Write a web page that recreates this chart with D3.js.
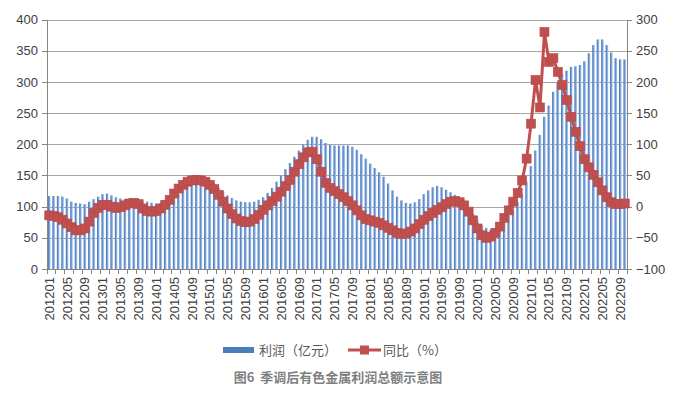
<!DOCTYPE html>
<html>

<head>
  <meta charset="utf-8">
  <title>季调后有色金属利润总额示意图</title>
  <script src="https://cdn.jsdelivr.net/npm/d3@7/dist/d3.min.js"></script>
  <style type="text/css">
    html,
    body {
      margin: 0;
      padding: 0;
      background: #fff;
    }

    svg {
      display: block;
      font-family: "Noto Sans CJK SC", "Noto Sans", sans-serif;
    }

    .axis path,
    .axis line {
      stroke: #868686;
      stroke-width: 1px;
      shape-rendering: crispEdges;
    }

    .axis text {
      font-size: 13px;
      fill: #404040;
    }

    .grid line {
      stroke: #a6a6a6;
      stroke-width: 1px;
      shape-rendering: crispEdges;
    }

    .grid path {
      display: none;
    }
  </style>
</head>

<body>
  <svg class="svg" width="673" height="398"></svg>
  <script type="text/javascript">
    // months 201201 .. 202210
    var months = [];
    for (var yr = 2012; yr <= 2022; yr++) {
      for (var mo = 1; mo <= 12; mo++) {
        if (yr === 2022 && mo > 10) break;
        months.push(yr + (mo < 10 ? '0' : '') + mo);
      }
    }

    // 利润（亿元）
    var profit = [
      117, 117, 117, 116, 113, 108, 106, 105, 104, 108, 112, 116,
      120, 121, 118, 115, 113, 112, 113, 112, 111, 110, 108, 106,
      105, 106, 107, 110, 115, 120, 126, 133, 140, 146, 149, 148,
      143, 137, 130, 124, 118, 114, 110, 108, 107, 107, 108, 111,
      115, 122, 130, 140, 150, 160, 170, 180, 190, 200, 207, 212,
      212, 208, 202, 199, 198, 198, 198, 198, 196, 191, 184, 177,
      169, 162, 155, 148, 137, 126, 116, 110, 106, 105, 107, 112,
      120, 126, 131, 133, 131, 127, 123, 119, 113, 106, 98, 88,
      78, 70, 66, 63, 64, 70, 77, 86, 95, 107, 120, 140,
      165, 190, 215, 244, 262, 284, 300, 312, 318, 324, 325, 327,
      333, 346, 359, 368, 368, 359, 347, 338, 336, 336
    ];

    // 同比（%）
    var yoy = [
      -14, -15, -17, -21, -27, -33, -38, -38, -35, -24, -10, -2,
      3, 3, 0, -2, -1, 2, 5, 6, 4, -3, -7, -8,
      -7, -3, 3, 11, 21, 29, 35, 40, 42, 43, 42, 40,
      35, 28, 19, 8, -3, -12, -19, -23, -25, -24, -20, -13,
      -5, 2, 9, 16, 24, 33, 43, 56, 68, 79, 87, 88,
      76, 56, 38, 30, 25, 20, 15, 9, 2, -6, -14, -20,
      -22, -24, -26, -30, -34, -38, -42, -44, -43, -40, -35, -28,
      -21, -15, -10, -5, -1, 4, 8, 9, 7, 2, -8, -22,
      -35, -46, -50, -48, -42, -32, -18, -6, 8, 22, 42, 77,
      133, 203, 159, 280, 232, 238, 216, 195, 171, 144, 120, 97,
      76, 63, 51, 39, 26, 15, 7, 4, 4, 5
    ];

    var profitTicks = [0, 50, 100, 150, 200, 250, 300, 350, 400];
    var yoyTicks = [-100, -50, 0, 50, 100, 150, 200, 250, 300];

    var data = months.map((d, i) => ({ month: d, profit: profit[i], yoy: yoy[i] }));

    var svg = d3.select('.svg');
    var x0 = 47, x1 = 627, yTop = 19.5, yBottom = 269;

    var xScale = d3.scaleBand()
      .domain(months)
      .range([x0, x1])
      .paddingInner(0.42)
      .paddingOuter(0.21);

    var yLeft = d3.scaleLinear().domain([0, 400]).range([yBottom, yTop]);
    var yRight = d3.scaleLinear().domain([-100, 300]).range([yBottom, yTop]);

    // 漸層
    var grad = svg.append('defs').append('linearGradient')
      .attr('id', 'barGrad')
      .attr('x1', '0%').attr('x2', '100%').attr('y1', '0%').attr('y2', '0%');
    grad.append('stop').attr('offset', '0%').attr('stop-color', '#3e6db0');
    grad.append('stop').attr('offset', '50%').attr('stop-color', '#709cd8');
    grad.append('stop').attr('offset', '100%').attr('stop-color', '#bfd3ef');

    // 格線
    svg.append('g')
      .attr('class', 'grid')
      .attr('transform', `translate(${x0},0)`)
      .call(d3.axisLeft(yLeft).tickValues(profitTicks).tickSize(-(x1 - x0)).tickFormat(''));

    // 長條
    svg.selectAll('.bar')
      .data(data)
      .enter()
      .append('rect')
      .classed('bar', true)
      .attr('x', d => xScale(d.month))
      .attr('y', d => yLeft(d.profit))
      .attr('width', xScale.bandwidth())
      .attr('height', d => yBottom - yLeft(d.profit))
      .attr('fill', 'url(#barGrad)');

    // 座標軸
    svg.append('g')
      .attr('class', 'y axis')
      .attr('transform', `translate(${x0},0)`)
      .call(d3.axisLeft(yLeft).tickValues(profitTicks).tickSizeInner(5).tickSizeOuter(0).tickPadding(4));

    svg.append('g')
      .attr('class', 'y2 axis')
      .attr('transform', `translate(${x1},0)`)
      .call(d3.axisRight(yRight).tickValues(yoyTicks).tickSizeInner(5).tickSizeOuter(0).tickPadding(4));

    var xAxis = svg.append('g')
      .attr('class', 'x axis')
      .attr('transform', `translate(0,${yBottom})`)
      .call(d3.axisBottom(xScale)
        .tickSizeInner(5)
        .tickSizeOuter(0)
        .tickFormat((d, i) => i % 4 === 0 ? d : ''));

    // 刻度移到類別之間
    var step = xScale.step();
    xAxis.selectAll('.tick line')
      .attr('transform', `translate(${-step / 2},0)`)
      .attr('display', (d, i) => i % 2 === 0 ? null : 'none');
    xAxis.append('line')
      .attr('x1', x1).attr('x2', x1)
      .attr('y1', 0).attr('y2', 5)
      .attr('stroke', '#868686');

    xAxis.selectAll('.tick text')
      .attr('transform', 'rotate(-90)')
      .attr('text-anchor', 'end')
      .attr('x', -8)
      .attr('y', 0)
      .attr('dy', '0.35em');

    // 同比線
    var linePath = d3.line()
      .x(d => xScale(d.month) + xScale.bandwidth() / 2)
      .y(d => yRight(d.yoy));

    svg.append('path')
      .datum(data)
      .attr('fill', 'none')
      .attr('stroke', '#c0504d')
      .attr('stroke-width', 3)
      .attr('d', linePath);

    var ms = 9;
    svg.selectAll('.dot')
      .data(data)
      .enter()
      .append('rect')
      .classed('dot', true)
      .attr('x', d => xScale(d.month) + xScale.bandwidth() / 2 - ms / 2)
      .attr('y', d => yRight(d.yoy) - ms / 2)
      .attr('width', ms)
      .attr('height', ms)
      .attr('fill', '#c0504d')
      .attr('stroke', '#b9474a')
      .attr('stroke-width', 0.6);

    // 圖例
    var legend = svg.append('g').attr('class', 'legend');
    legend.append('rect')
      .attr('x', 223).attr('y', 347).attr('width', 31).attr('height', 6)
      .attr('fill', '#4a7ebb');
    legend.append('text')
      .attr('x', 259).attr('y', 354.5)
      .attr('font-size', 13).attr('fill', '#595959')
      .text('利润（亿元）');
    legend.append('line')
      .attr('x1', 348).attr('x2', 381).attr('y1', 350).attr('y2', 350)
      .attr('stroke', '#c0504d').attr('stroke-width', 3);
    legend.append('rect')
      .attr('x', 360).attr('y', 345.5).attr('width', 9).attr('height', 9)
      .attr('fill', '#c0504d');
    legend.append('text')
      .attr('x', 383).attr('y', 354.5)
      .attr('font-size', 13).attr('fill', '#595959')
      .text('同比（%）');

    // 標題
    svg.append('text')
      .attr('x', 338).attr('y', 382)
      .attr('text-anchor', 'middle')
      .attr('font-size', 13)
      .attr('font-weight', 'bold')
      .attr('fill', '#7f7f7f')
      .attr('xml:space', 'preserve')
      .text('图6  季调后有色金属利润总额示意图');
  </script>
</body>

</html>
